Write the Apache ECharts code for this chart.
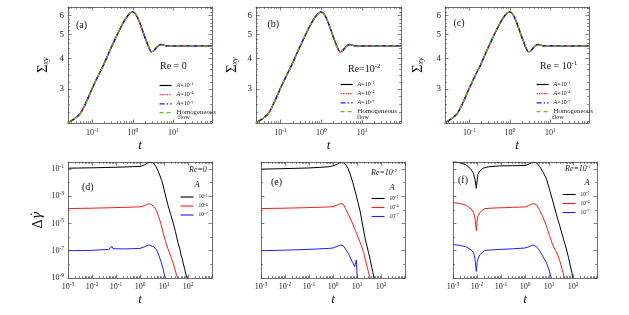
<!DOCTYPE html>
<html><head><meta charset="utf-8">
<script src="https://cdn.jsdelivr.net/npm/echarts@6/dist/echarts.min.js"></script>
<style>html,body{margin:0;padding:0;background:#fff}#c{width:629px;height:315px}</style>
</head><body><div id="c"></div>
<script>
// ---------- data ----------
// top panels: shear stress Sigma_xy vs t (curves of all A coincide)
const sigmaT = [0.025, 0.035, 0.05, 0.07, 0.1, 0.14, 0.19, 0.26, 0.33, 0.4, 0.48, 0.58, 0.7, 0.85, 0.97, 1.1, 1.25, 1.48, 1.7, 1.9, 2.16, 2.5, 2.85, 3.3, 3.8, 4.4, 5.0, 5.8, 6.6, 8, 12, 20, 40, 90];
const sigmaVals = [2.17, 2.25, 2.37, 2.64, 3.02, 3.4, 3.77, 4.25, 4.63, 4.96, 5.28, 5.6, 5.9, 6.13, 6.21, 6.15, 5.97, 5.6, 5.25, 4.98, 4.7, 4.42, 4.26, 4.3, 4.42, 4.52, 4.56, 4.53, 4.5, 4.5, 4.5, 4.5, 4.5, 4.5];

// panel (d) Re=0
const dBlackT = [0.001, 0.01, 0.1, 0.5, 1.0, 1.5, 2.0, 2.6, 3.5, 4.5, 5.5, 6.6, 8, 9.1, 11, 14.7, 19, 23.7, 30, 38, 46, 52, 58, 62, 72, 85, 100];
const dBlackV = [0.112, 0.120, 0.132, 0.145, 0.151, 0.191, 0.263, 0.302, 0.282, 0.158, 0.0794, 0.0363, 0.0141, 6.5e-3, 1.58e-3, 2.14e-4, 4.47e-5, 1.26e-5, 2.51e-6, 4.07e-7, 1.26e-7, 4.27e-8, 2.51e-8, 1.38e-8, 5.0e-9, 1.41e-9, 7.9e-10];
const dRedT = [0.001, 0.01, 0.1, 0.5, 1, 1.5, 2.0, 2.5, 3.0, 3.8, 4.8, 6, 7.5, 9.1, 11.5, 14.7, 19, 23.7, 28, 32.6, 38, 42];
const dRedV = [1.23e-4, 1.32e-4, 1.45e-4, 1.58e-4, 1.66e-4, 2.0e-4, 2.51e-4, 2.88e-4, 2.63e-4, 1.78e-4, 9.12e-5, 3.16e-5, 8.91e-6, 2.29e-6, 5.01e-7, 1.35e-7, 3.98e-8, 1.38e-8, 5.01e-9, 1.91e-9, 8.91e-10, 5.01e-10];
const dBlueT = [0.001, 0.01, 0.05, 0.06, 0.068, 0.075, 0.09, 0.2, 0.5, 1, 1.5, 2, 2.5, 3, 3.8, 4.8, 6, 7.7, 9.2, 10.6, 11.7, 12.5];
const dBlueV = [1.0e-7, 1.07e-7, 1.26e-7, 1.41e-7, 2.09e-7, 1.41e-7, 1.32e-7, 1.35e-7, 1.41e-7, 1.48e-7, 1.91e-7, 2.40e-7, 2.63e-7, 2.40e-7, 1.91e-7, 1.26e-7, 5.01e-8, 1.38e-8, 4.47e-9, 1.41e-9, 1.0e-9, 5.01e-10];

// panel (e) Re=1e-2
const eBlackT = [0.001, 0.01, 0.1, 0.5, 0.69, 1.0, 1.5, 2.1, 2.6, 3.3, 4.2, 5.3, 6.7, 8.5, 11, 13.7, 17.5, 22, 26, 30, 36, 41.5, 46, 51, 55];
const eBlackV = [0.0955, 0.105, 0.117, 0.138, 0.145, 0.166, 0.224, 0.302, 0.288, 0.224, 0.112, 0.0363, 0.01, 2.09e-3, 3.55e-4, 6.92e-5, 6.31e-6, 7.41e-7, 2.24e-7, 7.59e-8, 2.0e-8, 5.89e-9, 2.51e-9, 1.0e-9, 5.01e-10];
const eRedT = [0.001, 0.01, 0.1, 0.69, 1, 1.5, 2.1, 2.7, 3.3, 4.5, 6.2, 8.5, 11.7, 15, 18.8, 22, 25.8, 30, 35, 38];
const eRedV = [1.23e-4, 1.32e-4, 1.45e-4, 1.62e-4, 1.74e-4, 2.24e-4, 2.88e-4, 2.51e-4, 1.23e-4, 3.98e-5, 1.26e-5, 3.16e-6, 7.41e-7, 2.51e-7, 7.59e-8, 2.51e-8, 7.76e-9, 2.82e-9, 1.0e-9, 5.01e-10];
const eBlueT = [0.001, 0.01, 0.1, 0.69, 1, 1.5, 2.1, 2.7, 3.3, 4.5, 6.6, 8.0, 8.6, 9.4, 10.6];
const eBlueV = [1.0e-7, 1.10e-7, 1.26e-7, 1.48e-7, 1.58e-7, 2.09e-7, 2.63e-7, 2.24e-7, 1.35e-7, 5.62e-8, 1.35e-8, 6.92e-9, 8.91e-9, 2.14e-8, 3.16e-10];

// panel (f) Re=1e-1
const fBlackT = [0.001, 0.002, 0.0036, 0.0058, 0.0072, 0.0082, 0.0094, 0.0102, 0.011, 0.013, 0.018, 0.029, 0.088, 0.3, 1, 1.6, 2.15, 3, 4.1, 5.5, 7.7, 10.5, 14.7, 20, 27.8, 38, 52.7, 65, 77, 90, 100];
const fBlackV = [0.355, 0.282, 0.2, 0.0851, 0.0447, 0.0178, 3.72e-3, 0.0158, 0.0398, 0.0708, 0.112, 0.141, 0.166, 0.170, 0.178, 0.240, 0.316, 0.282, 0.148, 0.0631, 0.0204, 3.16e-3, 3.8e-4, 5.01e-5, 7.08e-6, 1.0e-6, 1.35e-7, 3.16e-8, 7.76e-9, 2.51e-9, 7.94e-10];
const fRedT = [0.001, 0.002, 0.0036, 0.0058, 0.0072, 0.0082, 0.0094, 0.0102, 0.011, 0.013, 0.021, 0.05, 0.1, 0.3, 1, 1.6, 2.15, 3, 4.1, 5.5, 7.7, 10.5, 14.7, 19, 23.7, 30, 38, 45, 50];
const fRedV = [3.39e-4, 2.82e-4, 2.14e-4, 1.12e-4, 6.31e-5, 2.51e-5, 3.02e-6, 1.78e-5, 3.55e-5, 6.31e-5, 1.23e-4, 1.35e-4, 1.41e-4, 1.51e-4, 1.62e-4, 2.19e-4, 2.88e-4, 2.40e-4, 9.12e-5, 3.16e-5, 7.08e-6, 1.26e-6, 2.34e-7, 1.0e-7, 4.27e-8, 1.26e-8, 2.51e-9, 1.0e-9, 5.01e-10];
const fBlueT = [0.001, 0.002, 0.0036, 0.0058, 0.0072, 0.0082, 0.0094, 0.0102, 0.011, 0.013, 0.021, 0.05, 0.1, 0.3, 1, 1.6, 2.15, 3, 4.1, 5.5, 7.7, 10, 12.5, 14];
const fBlueV = [2.88e-7, 2.40e-7, 1.91e-7, 1.12e-7, 7.08e-8, 2.82e-8, 3.02e-9, 1.41e-8, 2.51e-8, 5.01e-8, 1.05e-7, 1.17e-7, 1.26e-7, 1.38e-7, 1.58e-7, 2.09e-7, 2.63e-7, 2.0e-7, 1.0e-7, 3.98e-8, 1.38e-8, 3.98e-9, 1.0e-9, 5.01e-10];

// tick labels
const topXLabels = [0.1, 1, 10];
const topYLabels = [3, 4, 5, 6];
const botXLabels = [1e-3, 1e-2, 1e-1, 1, 10, 100];
const botYLabels = [1e-9, 1e-7, 1e-5, 1e-3, 1e-1];

// legend names and annotations
const topNames = ['A=10^-1', 'A=10^-4', 'A=10^-7', 'Homogeneous flow'];
const botNames = ['10^-1', '10^-4', '10^-7'];
const panelLetters = ['(a)', '(b)', '(c)', '(d)', '(e)', '(f)'];

// ---------- styling / layout ----------
const FONT = 'Liberation Serif';
const AX = '#4a4a4a';
const pts = (t, v) => t.map((x, i) => [x, v[i]]);

function logMinors(lo, hi) {
  const out = [];
  for (let e = -10; e <= 3; e++) for (let k = 2; k <= 9; k++) {
    const v = +(k * Math.pow(10, e)).toPrecision(6);
    if (v >= lo && v <= hi) out.push(v);
  }
  return out;
}
const topXMajor = [0.1, 1, 10], topXMinor = logMinors(0.025, 90);
const topYMajor = [3, 4, 5, 6], topYMinor = [];
for (let i = 11; i <= 32; i++) { if (i % 5 !== 0) topYMinor.push(i / 5); }
const botXMajor = [1e-3, 1e-2, 1e-1, 1, 10, 100, 1000], botXMinor = logMinors(1e-3, 1e3);
const botYMajor = [1e-9, 1e-7, 1e-5, 1e-3, 1e-1], botYMinor = [1e-8, 1e-6, 1e-4, 1e-2];

const panels = [
  {left: 68,  top: 7,   w: 144, h: 116, kind: 'top', yGap: 17},
  {left: 256, top: 7,   w: 145, h: 116, kind: 'top', yGap: 16},
  {left: 445, top: 7,   w: 144, h: 116, kind: 'top', yGap: 19},
  {left: 68,  top: 162, w: 144, h: 116, kind: 'bot', yLab: true},
  {left: 261, top: 162, w: 144, h: 116, kind: 'bot', yLab: false},
  {left: 453, top: 162, w: 144, h: 116, kind: 'bot', yLab: false}
];

const N = 'normal';
const powRich = {
  b: {fontFamily: FONT, fontSize: 8, fontWeight: N, color: '#222', lineHeight: 10},
  s: {fontFamily: FONT, fontSize: 5.5, fontWeight: N, color: '#222', lineHeight: 5, padding: [0, 0, 5, 0]}
};
const powFmt = v => '{b|10}{s|' + Math.round(Math.log10(v)) + '}';

function mkAxis(gi, pos, range, ticks, len, extra) {
  return Object.assign({
    gridIndex: gi, type: 'log', logBase: 10, min: range[0], max: range[1], position: pos,
    axisLine: {show: len > 2, onZero: false, lineStyle: {color: AX, width: 0.8}},
    axisTick: {show: true, inside: true, length: len, customValues: ticks, lineStyle: {color: AX, width: 0.7}},
    axisLabel: {show: false},
    splitLine: {show: false}, minorTick: {show: false}, minorSplitLine: {show: false},
    silent: true, z: 5
  }, extra || {});
}

const grids = [], xAxes = [], yAxes = [];
panels.forEach((p, gi) => {
  grids.push({left: p.left, top: p.top, width: p.w, height: p.h, show: false});
  const top = p.kind === 'top';
  const xr = top ? [0.025, 90] : [1e-3, 1e3];
  const yr = top ? [2.17, 6.5] : [1e-9, 0.32];
  const xMaj = top ? topXMajor : botXMajor, xMin = top ? topXMinor : botXMinor;
  const yMaj = top ? topYMajor : botYMajor, yMin = top ? topYMinor : botYMinor;
  xAxes.push(mkAxis(gi, 'bottom', xr, xMaj, 3.5, {
    axisLabel: {show: true, customValues: top ? topXLabels : botXLabels, formatter: powFmt,
      margin: top ? 5 : 4, rich: powRich},
    name: 't', nameLocation: 'middle', nameGap: top ? 16 : 15,
    nameTextStyle: {fontFamily: FONT, fontSize: 13, fontStyle: 'italic', fontWeight: N, color: '#111'}
  }));
  xAxes.push(mkAxis(gi, 'bottom', xr, xMin, 1.8));
  xAxes.push(mkAxis(gi, 'top', xr, xMaj, 3.5));
  xAxes.push(mkAxis(gi, 'top', xr, xMin, 1.8));
  let yExtra;
  if (top) {
    yExtra = {
      axisLabel: {show: true, customValues: topYLabels, margin: 4,
        fontFamily: FONT, fontSize: 9, color: '#222'},
      name: '{s|Σ}{x|xy}', nameLocation: 'middle', nameGap: p.yGap, nameRotate: 90,
      nameTextStyle: {rich: {
        s: {fontFamily: FONT, fontSize: 14, fontWeight: N, color: '#111', lineHeight: 16},
        x: {fontFamily: FONT, fontSize: 8, fontStyle: 'italic', fontWeight: N, color: '#111', lineHeight: 8, padding: [6, 0, 0, 0]}
      }}
    };
  } else if (p.yLab) {
    yExtra = {
      axisLabel: {show: true, customValues: botYLabels, formatter: powFmt, margin: 4, rich: powRich},
      name: '{d|Δ}{g|γ̇}', nameLocation: 'middle', nameGap: 22, nameRotate: 90,
      nameTextStyle: {rich: {
        d: {fontFamily: FONT, fontSize: 14, fontWeight: N, color: '#111', lineHeight: 16},
        g: {fontFamily: 'DejaVu Serif', fontSize: 13, fontStyle: 'italic', fontWeight: N, color: '#111', lineHeight: 16}
      }}
    };
  }
  yAxes.push(mkAxis(gi, 'left', yr, yMaj, 3.5, yExtra));
  yAxes.push(mkAxis(gi, 'left', yr, yMin, 1.8));
  yAxes.push(mkAxis(gi, 'right', yr, yMaj, 3.5));
  yAxes.push(mkAxis(gi, 'right', yr, yMin, 1.8));
});

const series = [];
const topStyles = [
  {color: '#000000', width: 1.4, type: 'solid'},
  {color: '#ff1010', width: 1.2, type: 'dotted'},
  {color: '#1a1aff', width: 1.2, type: [5, 2, 1.5, 2]},
  {color: '#6cbf1f', width: 1.2, type: [4, 3]}
];
for (let p = 0; p < 3; p++) {
  topNames.forEach((nm, k) => {
    series.push({type: 'line', name: nm, xAxisIndex: 4 * p, yAxisIndex: 4 * p,
      data: pts(sigmaT, sigmaVals), symbol: 'none', smooth: 0.3, silent: true,
      lineStyle: topStyles[k], itemStyle: {color: topStyles[k].color}, z: 2 + k});
  });
}
const botColors = ['#000000', '#ff1a1a', '#1f1fff'];
const botData = [
  [[dBlackT, dBlackV], [dRedT, dRedV], [dBlueT, dBlueV]],
  [[eBlackT, eBlackV], [eRedT, eRedV], [eBlueT, eBlueV]],
  [[fBlackT, fBlackV], [fRedT, fRedV], [fBlueT, fBlueV]]
];
botData.forEach((set, j) => {
  const gi = 3 + j;
  set.forEach((d, k) => {
    series.push({type: 'line', name: botNames[k], xAxisIndex: 4 * gi, yAxisIndex: 4 * gi,
      data: pts(d[0], d[1]), symbol: 'none', silent: true,
      lineStyle: {color: botColors[k], width: 1}, itemStyle: {color: botColors[k]}, z: 2});
  });
});

const legRichTop = {
  i: {fontFamily: FONT, fontSize: 6, fontStyle: 'italic', fontWeight: N, color: '#222', lineHeight: 7},
  t: {fontFamily: FONT, fontSize: 6, fontWeight: N, color: '#222', lineHeight: 7},
  h: {fontFamily: FONT, fontSize: 6.8, fontWeight: N, color: '#222', lineHeight: 7},
  s: {fontFamily: FONT, fontSize: 4.5, fontWeight: N, color: '#222', lineHeight: 4, padding: [0, 0, 3, 0]}
};
function fmtTop(name) {
  if (name.indexOf('Homogeneous') === 0) return '{h|Homogeneous}';
  return '{i|A}{t|=10}{s|' + name.split('^')[1] + '}';
}
const fmtBot = name => '{t|10}{s|' + name.split('^')[1] + '}';
const legRichBot = {
  t: {fontFamily: FONT, fontSize: 5.5, fontWeight: N, color: '#222', lineHeight: 7},
  s: {fontFamily: FONT, fontSize: 4.2, fontWeight: N, color: '#222', lineHeight: 4, padding: [0, 0, 3, 0]}
};
const legends = [];
[[159, 81.5], [340, 80.5], [536, 80.5]].forEach(([l, t]) => legends.push({
  left: l, top: t, orient: 'vertical', padding: 0, itemWidth: 12, itemHeight: 5,
  itemGap: 1.2, itemTextGap: 2, selectedMode: false, data: topNames, formatter: fmtTop,
  itemStyle: {opacity: 0}, lineStyle: {width: 1.2},
  textStyle: {fontFamily: FONT, fontSize: 6, color: '#222', rich: legRichTop}
}));
[[180, 193.5], [371, 195], [562, 191]].forEach(([l, t]) => legends.push({
  left: l, top: t, orient: 'vertical', padding: 0, itemWidth: 13, itemHeight: 5,
  itemGap: 2, itemTextGap: 3, selectedMode: false, data: botNames, formatter: fmtBot,
  itemStyle: {opacity: 0}, lineStyle: {width: 1.1},
  textStyle: {fontFamily: FONT, fontSize: 5.5, color: '#222', rich: legRichBot}
}));

const T = (left, top, text, rich) => ({left, top, padding: 0, text,
  textStyle: {fontWeight: N, fontFamily: FONT, rich}});
const rLet = {a: {fontFamily: FONT, fontSize: 10, fontWeight: N, color: '#111', lineHeight: 12}};
const rRe = {
  a: {fontFamily: FONT, fontSize: 10, fontWeight: N, color: '#111', lineHeight: 12},
  s: {fontFamily: FONT, fontSize: 6.5, fontWeight: N, color: '#111', lineHeight: 6, padding: [0, 0, 6, 0]}
};
const rReI = {
  i: {fontFamily: FONT, fontSize: 8, fontStyle: 'italic', fontWeight: N, color: '#111', lineHeight: 10},
  a: {fontFamily: FONT, fontSize: 8, fontStyle: 'italic', fontWeight: N, color: '#111', lineHeight: 10},
  s: {fontFamily: FONT, fontSize: 5, fontStyle: 'italic', fontWeight: N, color: '#111', lineHeight: 5, padding: [0, 0, 5, 0]}
};
const rA = {i: {fontFamily: FONT, fontSize: 8.5, fontStyle: 'italic', fontWeight: N, color: '#111', lineHeight: 10}};
const rFlow = {a: {fontFamily: FONT, fontSize: 6.5, fontWeight: N, color: '#222', lineHeight: 8}};
const titles = [
  T(76, 19, '{a|' + panelLetters[0] + '}', rLet),
  T(267.5, 18, '{a|' + panelLetters[1] + '}', rLet),
  T(453.5, 17, '{a|' + panelLetters[2] + '}', rLet),
  T(82, 181, '{a|' + panelLetters[3] + '}', rLet),
  T(271, 176, '{a|' + panelLetters[4] + '}', rLet),
  T(458, 174, '{a|' + panelLetters[5] + '}', rLet),
  T(160, 60, '{a|Re = 0}', rRe),
  T(348, 63, '{a|Re=10}{s|-2}', rRe),
  T(540, 60, '{a|Re = 10}{s|-1}', rRe),
  T(178, 113.5, '{a|flow}', rFlow),
  T(357, 113.5, '{a|flow}', rFlow),
  T(552, 113.5, '{a|flow}', rFlow),
  T(189, 165, '{i|Re}{a|=0}', rReI),
  T(371, 168, '{i|Re}{a|=10}{s|-2}', rReI),
  T(565, 164, '{i|Re}{a|=10}{s|-1}', rReI),
  T(194.5, 180, '{i|A}', rA),
  T(389.5, 183, '{i|A}', rA),
  T(584.5, 178, '{i|A}', rA)
];

const chart = echarts.init(document.getElementById('c'), null, {renderer: 'canvas'});
chart.setOption({
  animation: false,
  backgroundColor: '#ffffff',
  textStyle: {fontFamily: FONT},
  title: titles,
  legend: legends,
  grid: grids,
  xAxis: xAxes,
  yAxis: yAxes,
  series: series
});
</script>
</body></html>
